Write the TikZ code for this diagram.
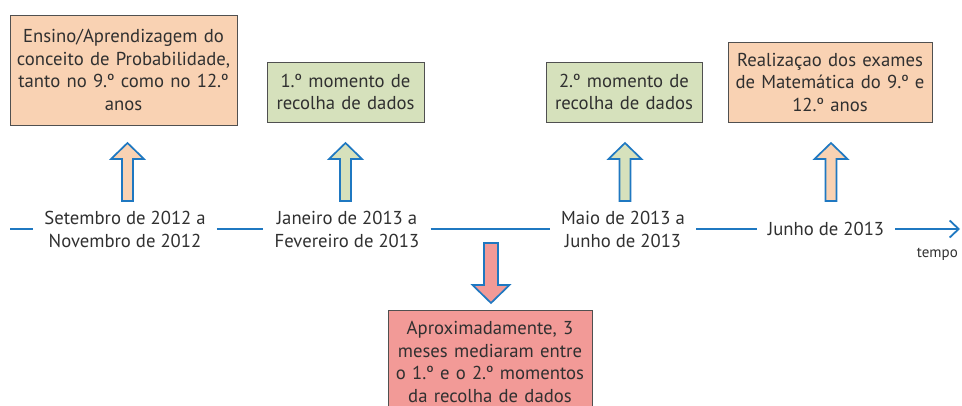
\documentclass[tikz,border=0pt]{standalone}
\usepackage{fontspec}
\setmainfont{PT Sans}
\usetikzlibrary{arrows.meta}

\definecolor{lineblue}{HTML}{1F78C1}
\definecolor{peach}{HTML}{F9D2B3}
\definecolor{sage}{HTML}{D6E1BC}
\definecolor{rose}{HTML}{F29A97}
\definecolor{boxline}{HTML}{505050}
\definecolor{txt}{HTML}{303030}

\tikzset{
  infobox/.style={draw=boxline, line width=0.9pt, align=center, inner sep=0pt,
    text=txt, font=\fontsize{18.7}{22.5}\selectfont},
  datelabel/.style={align=center, inner xsep=11pt, inner ysep=0pt, text=txt,
    font=\fontsize{18.7}{23}\selectfont},
  blockarrow/.style={draw=lineblue, line width=1.7pt, line join=miter}
}

\begin{document}
\begin{tikzpicture}[x=1pt, y=-1pt]
\useasboundingbox (0,0) rectangle (962,406);

%boxes
	\node[infobox, fill=peach, minimum width=227pt, minimum height=110pt, text width=222pt] (ensino) at (123.5,70)
		{Ensino/Aprendizagem do\\ conceito de Probabilidade,\\ tanto no 9.º como no 12.º\\ anos};
	\node[infobox, fill=sage, minimum width=157pt, minimum height=60pt, text width=152pt] (mom1) at (345.5,92)
		{1.º momento de\\ recolha de dados};
	\node[infobox, fill=sage, minimum width=156pt, minimum height=60pt, text width=152pt] (mom2) at (624,92)
		{2.º momento de\\ recolha de dados};
	\node[infobox, fill=peach, minimum width=204pt, minimum height=80pt, text width=200pt] (exames) at (830,82)
		{Realizaçao dos exames\\ de Matemática do 9.º e\\ 12.º anos};
	\node[infobox, fill=rose, minimum width=204pt, minimum height=104pt, text width=200pt] (meses) at (490,362)
		{Aproximadamente, 3\\ meses mediaram entre\\ o 1.º e o 2.º momentos\\ da recolha de dados};

%time line
	\coordinate (start) at (10,229);
	\coordinate (end) at (960,229);
	\node[datelabel] (d1) at (125,229) {Setembro de 2012 a\\ Novembro de 2012};
	\node[datelabel] (d2) at (347,229) {Janeiro de 2013 a\\ Fevereiro de 2013};
	\node[datelabel] (d3) at (623,229) {Maio de 2013 a\\ Junho de 2013};
	\node[datelabel] (d4) at (826,229) {Junho de 2013};
	\node[text=txt, font=\fontsize{15}{16}\selectfont, anchor=north east, inner sep=1pt] (tempo) at (959,247) {tempo};

	\draw[lineblue, line width=1.8pt] (start) -- (d1.west);
	\draw[lineblue, line width=1.8pt] (d1.east) -- (d2.west);
	\draw[lineblue, line width=1.8pt] (d2.east) -- (d3.west);
	\draw[lineblue, line width=1.8pt] (d3.east) -- (d4.west);
	\draw[lineblue, line width=1.8pt, -{Straight Barb[length=9pt, width=17pt, line width=1.8pt]}] (d4.east) -- (end);

%up arrows
	\foreach \x/\col in {127.5/peach, 345.5/sage, 625/sage, 831/peach}{
		\draw[blockarrow, fill=\col] (\x-5.5,201) -- (\x-5.5,159) -- (\x-16.5,159) -- (\x,143)
			-- (\x+16.5,159) -- (\x+5.5,159) -- (\x+5.5,201) -- cycle;
	}

%down arrow
	\draw[blockarrow, fill=rose] (484,243) -- (484,285) -- (472.5,285) -- (491,303)
		-- (509.5,285) -- (498,285) -- (498,243) -- cycle;

\end{tikzpicture}
\end{document}
